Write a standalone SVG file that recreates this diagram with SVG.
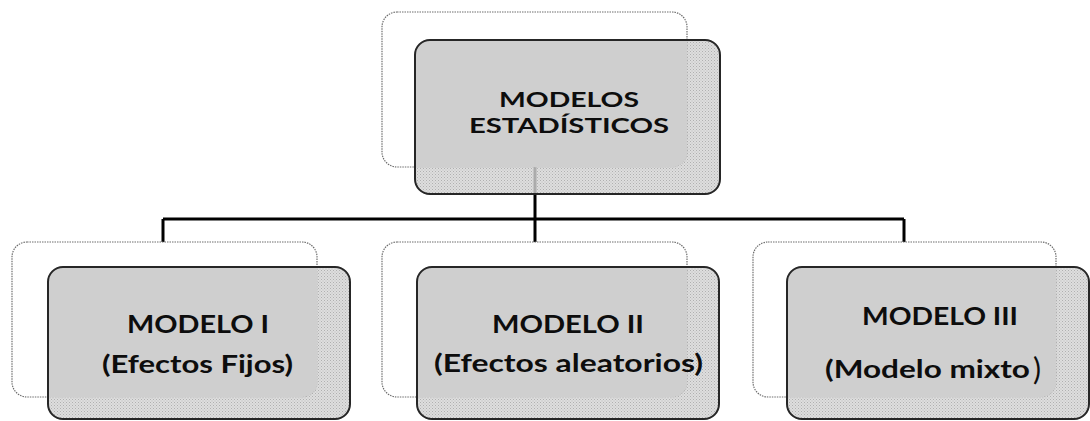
<svg xmlns="http://www.w3.org/2000/svg" width="1090" height="421" viewBox="0 0 1090 421">
<style>
.back{fill:#ffffff;stroke:#6e6e6e;stroke-width:1.2;stroke-dasharray:1.5 1}
.front{fill:url(#dither);stroke:none}
.solid{fill:#cfcfcf;stroke:none}
.edge{fill:none;stroke:#262626;stroke-width:2}
.conn{stroke:#000;stroke-width:3;fill:none}
.t1{font-family:Lato,"Open Sans","Liberation Sans",sans-serif;font-weight:bold;font-size:20.5px;fill:#0d0d0d;text-anchor:middle}
.t2{font-family:Lato,"Open Sans","Liberation Sans",sans-serif;font-weight:bold;font-size:25.5px;fill:#0d0d0d;text-anchor:middle}
</style>
<defs>
<pattern id="dither" width="3" height="3" patternUnits="userSpaceOnUse">
<rect width="3" height="3" fill="#d6d6d6" fill-opacity="0.8"/>
<rect width="1" height="1" fill="#a8a8a8" fill-opacity="0.85"/>
<rect x="1.5" y="1.5" width="1" height="1" fill="#b4b4b4" fill-opacity="0.85"/>
</pattern>
<clipPath id="cTop"><rect x="415" y="40" width="305" height="154" rx="15"/></clipPath>
<clipPath id="cL"><rect x="48" y="267" width="302" height="152" rx="15"/></clipPath>
<clipPath id="cM"><rect x="417" y="267" width="302" height="152" rx="15"/></clipPath>
<clipPath id="cR"><rect x="787" y="267" width="302" height="152" rx="15"/></clipPath>
</defs>
<rect width="1090" height="421" fill="#ffffff"/>
<g id="connectors">
<path class="conn" d="M535 167V219M163 219H904M163 219V242M535 219V242M904 219V242"/>
</g>
<g id="node-top">
<rect class="back" x="382" y="12" width="305" height="155" rx="15"/>
<rect class="front" x="415" y="40" width="305" height="154" rx="15"/>
<rect class="solid" x="382" y="12" width="305" height="155" rx="15" clip-path="url(#cTop)"/>
<rect class="edge" x="415" y="40" width="305" height="154" rx="15"/>
<text class="t1" x="569" y="107" textLength="140" lengthAdjust="spacingAndGlyphs">MODELOS</text>
<text class="t1" x="569" y="133" textLength="200" lengthAdjust="spacingAndGlyphs">ESTADÍSTICOS</text>
</g>
<g id="node-1">
<rect class="back" x="12" y="242" width="305" height="155" rx="15"/>
<rect class="front" x="48" y="267" width="302" height="152" rx="15"/>
<rect class="solid" x="12" y="242" width="305" height="155" rx="15" clip-path="url(#cL)"/>
<rect class="edge" x="48" y="267" width="302" height="152" rx="15"/>
<text class="t2" x="198" y="333" textLength="142" lengthAdjust="spacingAndGlyphs">MODELO I</text>
<text class="t2" x="197.5" y="373" textLength="191" lengthAdjust="spacingAndGlyphs">(Efectos Fijos)</text>
</g>
<g id="node-2">
<rect class="back" x="382" y="242" width="305" height="155" rx="15"/>
<rect class="front" x="417" y="267" width="302" height="152" rx="15"/>
<rect class="solid" x="382" y="242" width="305" height="155" rx="15" clip-path="url(#cM)"/>
<rect class="edge" x="417" y="267" width="302" height="152" rx="15"/>
<text class="t2" x="568" y="333" textLength="152" lengthAdjust="spacingAndGlyphs">MODELO II</text>
<text class="t2" x="568.5" y="372" textLength="269" lengthAdjust="spacingAndGlyphs">(Efectos aleatorios)</text>
</g>
<g id="node-3">
<rect class="back" x="753" y="242" width="303" height="155" rx="15"/>
<rect class="front" x="787" y="267" width="302" height="152" rx="15"/>
<rect class="solid" x="753" y="242" width="303" height="155" rx="15" clip-path="url(#cR)"/>
<rect class="edge" x="787" y="267" width="302" height="152" rx="15"/>
<text class="t2" x="940" y="325" textLength="156" lengthAdjust="spacingAndGlyphs">MODELO III</text>
<text class="t2" y="378" style="text-anchor:start"><tspan x="825" textLength="205" lengthAdjust="spacingAndGlyphs">(Modelo mixto</tspan><tspan x="1033" y="380" style="font-size:30px;font-weight:normal">)</tspan></text>
</g>
</svg>
